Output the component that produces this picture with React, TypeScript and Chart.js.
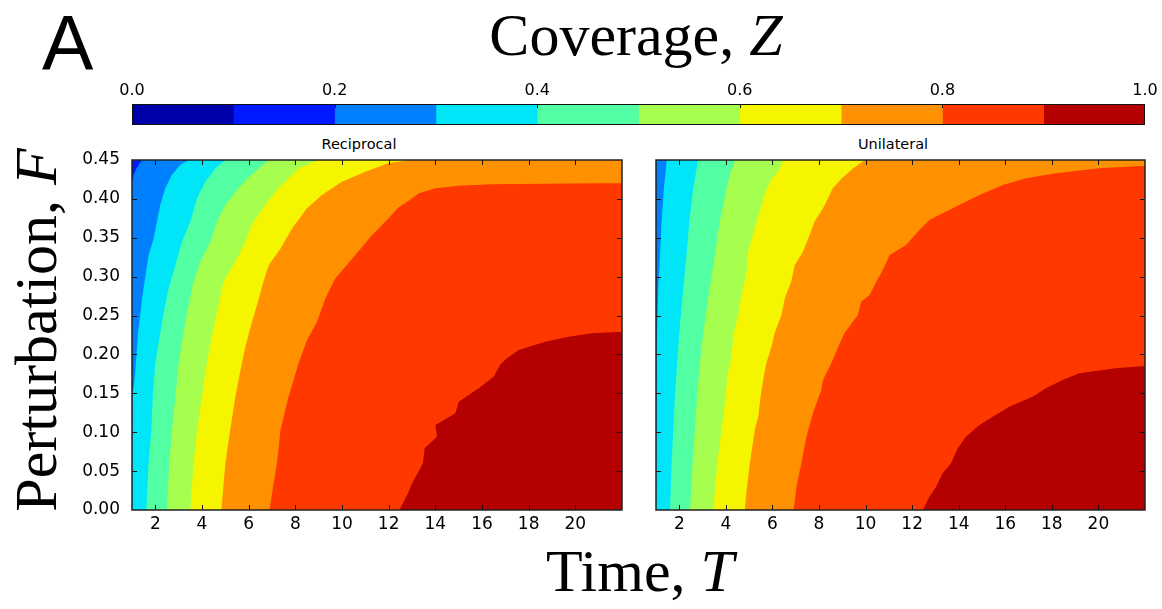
import React, { useEffect, useRef } from 'react';
import { Chart, registerables } from 'chart.js';

Chart.register(...registerables);

// ---------- axes ----------
const T_MIN = 1;
const T_MAX = 22;
const F_MIN = 0;
const F_MAX = 0.45;
const T_TICKS = [2, 4, 6, 8, 10, 12, 14, 16, 18, 20];
const F_TICKS = [0, 0.05, 0.1, 0.15, 0.2, 0.25, 0.3, 0.35, 0.4, 0.45];

// ---------- colour levels of coverage Z ----------
const Z_LEVELS = [0, 0.1, 0.2, 0.3, 0.4, 0.5, 0.6, 0.7, 0.8, 0.9, 1.0];
const Z_TICKS = [0, 0.2, 0.4, 0.6, 0.8, 1.0];
const LEVEL_COLORS = [
  '#0000aa', '#0019ff', '#0080ff', '#00e5f8', '#52ffa3',
  '#a6ff4f', '#f6f500', '#ff9100', '#ff3800', '#b40000',
];

// ---------- Reciprocal: contour edges [T, F], top to bottom; region right of edge has the level ----------
const REC_EDGE_1 = [[1, 0.45], [1, 0]];
const REC_EDGE_2 = [[1.43, 0.45], [1.19, 0.439], [1.07, 0.431], [1.0, 0.42], [1.0, 0]];
const REC_EDGE_3 = [[3.43, 0.45], [3.07, 0.444], [2.71, 0.431], [2.43, 0.414], [2.21, 0.392], [2.07, 0.371], [1.93, 0.349], [1.71, 0.328], [1.57, 0.3], [1.43, 0.272], [1.33, 0.245], [1.26, 0.228], [1.19, 0.2], [1.11, 0.167], [1.03, 0.15], [1.0, 0.14], [1.0, 0]];
const REC_EDGE_4 = [[5.0, 0.45], [4.57, 0.439], [4.14, 0.422], [3.79, 0.401], [3.5, 0.371], [3.14, 0.345], [2.86, 0.315], [2.57, 0.285], [2.36, 0.255], [2.21, 0.228], [2.0, 0.189], [1.89, 0.146], [1.83, 0.103], [1.71, 0.06], [1.61, 0]];
const REC_EDGE_5 = [[6.86, 0.45], [6.43, 0.439], [5.9, 0.425], [5.57, 0.414], [5.0, 0.392], [4.64, 0.371], [4.36, 0.345], [3.93, 0.319], [3.64, 0.294], [3.43, 0.264], [3.21, 0.228], [3.0, 0.189], [2.86, 0.146], [2.71, 0.103], [2.6, 0.06], [2.49, 0]];
const REC_EDGE_6 = [[9.0, 0.45], [8.14, 0.439], [7.29, 0.414], [6.71, 0.392], [6.21, 0.371], [5.86, 0.345], [5.43, 0.319], [4.93, 0.294], [4.71, 0.264], [4.5, 0.234], [4.21, 0.189], [4.0, 0.146], [3.79, 0.103], [3.64, 0.06], [3.5, 0]];
const REC_EDGE_7 = [[13.0, 0.45], [12.0, 0.446], [11.0, 0.435], [10.0, 0.422], [9.14, 0.405], [8.5, 0.388], [7.86, 0.362], [7.36, 0.336], [6.86, 0.315], [6.64, 0.294], [6.36, 0.264], [6.07, 0.234], [5.86, 0.21], [5.71, 0.189], [5.43, 0.146], [5.21, 0.103], [5.0, 0.06], [4.83, 0]];
const REC_EDGE_8 = [[22, 0.45], [22, 0.4205], [16.4, 0.4187], [15.0, 0.417], [14.0, 0.4136], [13.3, 0.4071], [12.9, 0.3986], [12.4, 0.3887], [12.0, 0.375], [11.29, 0.3536], [10.57, 0.3278], [9.71, 0.2978], [9.29, 0.2721], [8.93, 0.242], [8.5, 0.2186], [8.14, 0.1886], [7.71, 0.1457], [7.36, 0.1029], [7.29, 0.0814], [7.21, 0.06], [7.07, 0.0343], [6.89, 0]];
const REC_EDGE_9 = [[22, 0.45], [22, 0.2293], [20.71, 0.2271], [19.71, 0.2229], [18.71, 0.2164], [17.57, 0.2057], [17.07, 0.195], [16.79, 0.1873], [16.5, 0.1714], [15.86, 0.1564], [15.0, 0.1393], [14.86, 0.1243], [14.0, 0.1093], [14.07, 0.0943], [13.54, 0.0793], [13.47, 0.06], [13.0, 0.0343], [12.83, 0.0214], [12.46, 0]];

// ---------- Unilateral ----------
const UNI_EDGE_2 = [[1, 0.45], [1, 0]];
const UNI_EDGE_3 = [[1.46, 0.45], [1.34, 0.414], [1.24, 0.371], [1.17, 0.328], [1.1, 0.285], [1.04, 0.225], [1.0, 0.2], [1.0, 0]];
const UNI_EDGE_4 = [[2.81, 0.45], [2.6, 0.414], [2.43, 0.371], [2.31, 0.328], [2.17, 0.285], [2.0, 0.228], [1.91, 0.189], [1.81, 0.146], [1.74, 0.103], [1.67, 0.06], [1.6, 0]];
const UNI_EDGE_5 = [[4.39, 0.45], [4.17, 0.431], [4.03, 0.414], [3.74, 0.371], [3.53, 0.328], [3.31, 0.285], [3.03, 0.228], [2.89, 0.189], [2.77, 0.146], [2.67, 0.103], [2.57, 0.06], [2.46, 0]];
const UNI_EDGE_6 = [[6.46, 0.45], [6.24, 0.435], [5.89, 0.422], [5.67, 0.405], [5.46, 0.384], [5.24, 0.362], [4.96, 0.332], [4.89, 0.306], [4.67, 0.276], [4.53, 0.251], [4.34, 0.228], [4.24, 0.197], [4.06, 0.171], [3.96, 0.137], [3.81, 0.103], [3.64, 0.06], [3.53, 0.026], [3.46, 0]];
const UNI_EDGE_7 = [[9.96, 0.45], [9.46, 0.439], [8.96, 0.426], [8.6, 0.414], [8.39, 0.401], [8.17, 0.388], [7.81, 0.371], [7.6, 0.354], [7.31, 0.332], [6.96, 0.315], [6.81, 0.294], [6.53, 0.272], [6.39, 0.251], [6.1, 0.228], [5.96, 0.21], [5.74, 0.189], [5.6, 0.167], [5.49, 0.146], [5.39, 0.12], [5.24, 0.103], [5.03, 0.06], [4.91, 0.03], [4.81, 0]];
const UNI_EDGE_8 = [[22, 0.45], [22, 0.4427], [20.03, 0.4393], [18.17, 0.4329], [16.89, 0.4264], [15.89, 0.4179], [14.89, 0.405], [14.17, 0.3943], [13.31, 0.3814], [12.74, 0.3729], [12.24, 0.3579], [11.74, 0.3407], [11.03, 0.3278], [10.74, 0.3086], [10.46, 0.2936], [10.17, 0.2764], [9.81, 0.2679], [9.67, 0.2507], [9.1, 0.228], [8.89, 0.2143], [8.53, 0.1886], [8.17, 0.1671], [8.1, 0.1543], [7.74, 0.1243], [7.46, 0.0943], [7.24, 0.06], [7.03, 0.03], [6.91, 0]];
const UNI_EDGE_9 = [[22, 0.45], [22, 0.1851], [20.74, 0.1822], [19.17, 0.1757], [18.46, 0.1671], [17.74, 0.1564], [17.17, 0.1457], [16.17, 0.1329], [15.46, 0.12], [14.89, 0.1093], [14.31, 0.0943], [13.96, 0.0793], [13.67, 0.06], [13.31, 0.0471], [13.03, 0.03], [12.74, 0.0171], [12.46, 0]];

const REC_LEVELS = [1, 2, 3, 4, 5, 6, 7, 8, 9];
const REC_EDGES = [REC_EDGE_1, REC_EDGE_2, REC_EDGE_3, REC_EDGE_4, REC_EDGE_5, REC_EDGE_6, REC_EDGE_7, REC_EDGE_8, REC_EDGE_9];
const UNI_LEVELS = [2, 3, 4, 5, 6, 7, 8, 9];
const UNI_EDGES = [UNI_EDGE_2, UNI_EDGE_3, UNI_EDGE_4, UNI_EDGE_5, UNI_EDGE_6, UNI_EDGE_7, UNI_EDGE_8, UNI_EDGE_9];

const TICK_FONT = 'DejaVu Sans';
const PAD_TOP = 14;

const framePlugin = {
  id: 'frameTicks',
  afterDatasetsDraw(chart: any) {
    const { ctx, chartArea: a } = chart;
    const xs = chart.scales.x;
    const ys = chart.scales.y;
    const L = 5;
    ctx.save();
    ctx.strokeStyle = '#111';
    ctx.lineWidth = 1;
    ctx.beginPath();
    for (const t of T_TICKS) {
      const px = Math.round(xs.getPixelForValue(t)) + 0.5;
      ctx.moveTo(px, a.bottom);
      ctx.lineTo(px, a.bottom - L);
      ctx.moveTo(px, a.top);
      ctx.lineTo(px, a.top + L);
    }
    for (const f of F_TICKS) {
      if (f === F_MIN || f === F_MAX) continue;
      const py = Math.round(ys.getPixelForValue(f)) + 0.5;
      ctx.moveTo(a.left, py);
      ctx.lineTo(a.left + L, py);
      ctx.moveTo(a.right, py);
      ctx.lineTo(a.right - L, py);
    }
    ctx.stroke();
    ctx.lineWidth = 1.5;
    ctx.strokeStyle = '#222';
    ctx.strokeRect(a.left, a.top, a.right - a.left, a.bottom - a.top);
    ctx.restore();
  },
};

const cbarFramePlugin = {
  id: 'cbarFrame',
  afterDatasetsDraw(chart: any) {
    const { ctx, chartArea: a } = chart;
    const xs = chart.scales.x;
    ctx.save();
    ctx.strokeStyle = '#111';
    ctx.lineWidth = 1;
    ctx.beginPath();
    for (const z of Z_TICKS) {
      if (z === 0 || z === 1) continue;
      const px = Math.round(xs.getPixelForValue(z)) + 0.5;
      ctx.moveTo(px, a.top);
      ctx.lineTo(px, a.top + 4);
    }
    ctx.stroke();
    ctx.strokeRect(a.left + 0.5, a.top + 0.5, a.right - a.left - 1, a.bottom - a.top - 1);
    ctx.restore();
  },
};

const noPadX = (h: number) => (s: any) => { s.height = h; s.paddingLeft = 0; s.paddingRight = 0; s.paddingTop = 0; s.paddingBottom = 0; };
const noPadY = (w: number) => (s: any) => { s.width = w; s.paddingLeft = 0; s.paddingRight = 0; s.paddingTop = 0; s.paddingBottom = 0; };

function plotConfig(levels: number[], edges: number[][][], showYLabels: boolean): any {
  const datasets = edges.map((edge, i) => {
    const pts = edge.map(([t, f]) => ({ x: t, y: f }));
    pts.push({ x: T_MAX, y: F_MIN }, { x: T_MAX, y: F_MAX });
    return {
      type: 'line',
      data: pts,
      backgroundColor: LEVEL_COLORS[levels[i]],
      borderColor: 'rgba(0,0,0,0)',
      borderWidth: 0,
      pointRadius: 0,
      pointHoverRadius: 0,
      fill: 'shape',
      tension: 0,
      order: 100 - i,
    };
  });
  return {
    type: 'line',
    data: { datasets },
    options: {
      animation: false,
      responsive: false,
      events: [],
      layout: { padding: { top: PAD_TOP, right: 2, left: 0, bottom: 0 }, autoPadding: false },
      plugins: { legend: { display: false }, tooltip: { enabled: false }, title: { display: false } },
      scales: {
        x: {
          type: 'linear',
          min: T_MIN,
          max: T_MAX,
          grid: { display: false, drawTicks: false },
          border: { display: false },
          afterBuildTicks: (s: any) => { s.ticks = T_TICKS.map((v) => ({ value: v })); },
          afterFit: noPadX(32),
          ticks: {
            padding: 4,
            autoSkip: false,
            maxRotation: 0,
            color: '#000',
            font: { family: TICK_FONT, size: 17 },
            callback: (v: any) => String(v),
          },
        },
        y: {
          type: 'linear',
          min: F_MIN,
          max: F_MAX,
          grid: { display: false, drawTicks: false },
          border: { display: false },
          afterBuildTicks: (s: any) => { s.ticks = F_TICKS.map((v) => ({ value: v })); },
          afterFit: noPadY(showYLabels ? 50 : 4),
          ticks: {
            display: showYLabels,
            padding: 12,
            autoSkip: false,
            color: '#000',
            font: { family: TICK_FONT, size: 17 },
            callback: (v: any) => Number(v).toFixed(2),
          },
        },
      },
    },
    plugins: [framePlugin],
  };
}

function cbarConfig(): any {
  return {
    type: 'bar',
    data: {
      labels: ['Z'],
      datasets: LEVEL_COLORS.map((c, i) => ({
        data: [[Z_LEVELS[i], Z_LEVELS[i + 1]]],
        backgroundColor: c,
        borderWidth: 0,
        barPercentage: 1,
        categoryPercentage: 1,
        grouped: false,
        borderSkipped: false,
      })),
    },
    options: {
      indexAxis: 'y',
      animation: false,
      responsive: false,
      events: [],
      layout: { padding: { left: 20, right: 14, top: 0, bottom: 2 }, autoPadding: false },
      plugins: { legend: { display: false }, tooltip: { enabled: false } },
      scales: {
        x: {
          type: 'linear',
          position: 'top',
          min: 0,
          max: 1,
          grid: { display: false, drawTicks: false },
          border: { display: false },
          afterBuildTicks: (s: any) => { s.ticks = Z_TICKS.map((v) => ({ value: v })); },
          afterFit: noPadX(24),
          ticks: {
            padding: 4,
            autoSkip: false,
            maxRotation: 0,
            color: '#000',
            font: { family: TICK_FONT, size: 16 },
            callback: (v: any) => Number(v).toFixed(1),
          },
        },
        y: { display: false },
      },
    },
    plugins: [cbarFramePlugin],
  };
}

export default function App() {
  const recRef = useRef<HTMLCanvasElement>(null);
  const uniRef = useRef<HTMLCanvasElement>(null);
  const cbarRef = useRef<HTMLCanvasElement>(null);

  useEffect(() => {
    document.body.style.margin = '0';
    const charts = [
      new Chart(recRef.current as HTMLCanvasElement, plotConfig(REC_LEVELS, REC_EDGES, true)),
      new Chart(uniRef.current as HTMLCanvasElement, plotConfig(UNI_LEVELS, UNI_EDGES, false)),
      new Chart(cbarRef.current as HTMLCanvasElement, cbarConfig()),
    ];
    return () => charts.forEach((c) => c.destroy());
  }, []);

  const serif = "'Liberation Serif', 'Times New Roman', serif";
  const abs = (extra: any) => ({ position: 'absolute' as const, whiteSpace: 'nowrap' as const, lineHeight: 1, ...extra });
  const plotTop = 160 - PAD_TOP;
  const plotH = PAD_TOP + 350 + 32;

  return (
    <div style={{ position: 'absolute', left: 0, top: 0, width: 1162, height: 609, background: '#fff', overflow: 'hidden' }}>
      <div style={abs({ left: 42, top: 5, fontFamily: "'Liberation Sans', Arial, sans-serif", fontSize: 77 })}>A</div>
      <div style={abs({ left: 636, top: 5, transform: 'translateX(-50%)', fontFamily: serif, fontSize: 60 })}>
        Coverage, <i>Z</i>
      </div>
      <div style={abs({ left: 640, top: 541, transform: 'translateX(-50%)', fontFamily: serif, fontSize: 60 })}>
        Time, <i>T</i>
      </div>
      <div style={abs({ left: 36, top: 330, transform: 'translate(-50%, -50%) rotate(-90deg)', fontFamily: serif, fontSize: 60 })}>
        Perturbation, <i>F</i>
      </div>
      <div style={abs({ left: 359, top: 137, transform: 'translateX(-50%)', fontFamily: TICK_FONT, fontSize: 14.5 })}>Reciprocal</div>
      <div style={abs({ left: 893, top: 137, transform: 'translateX(-50%)', fontFamily: TICK_FONT, fontSize: 14.5 })}>Unilateral</div>
      <canvas ref={cbarRef} width={1047} height={47} style={{ position: 'absolute', left: 112, top: 80 }} />
      <canvas ref={recRef} width={542} height={plotH} style={{ position: 'absolute', left: 82, top: plotTop }} />
      <canvas ref={uniRef} width={495} height={plotH} style={{ position: 'absolute', left: 652, top: plotTop }} />
    </div>
  );
}
